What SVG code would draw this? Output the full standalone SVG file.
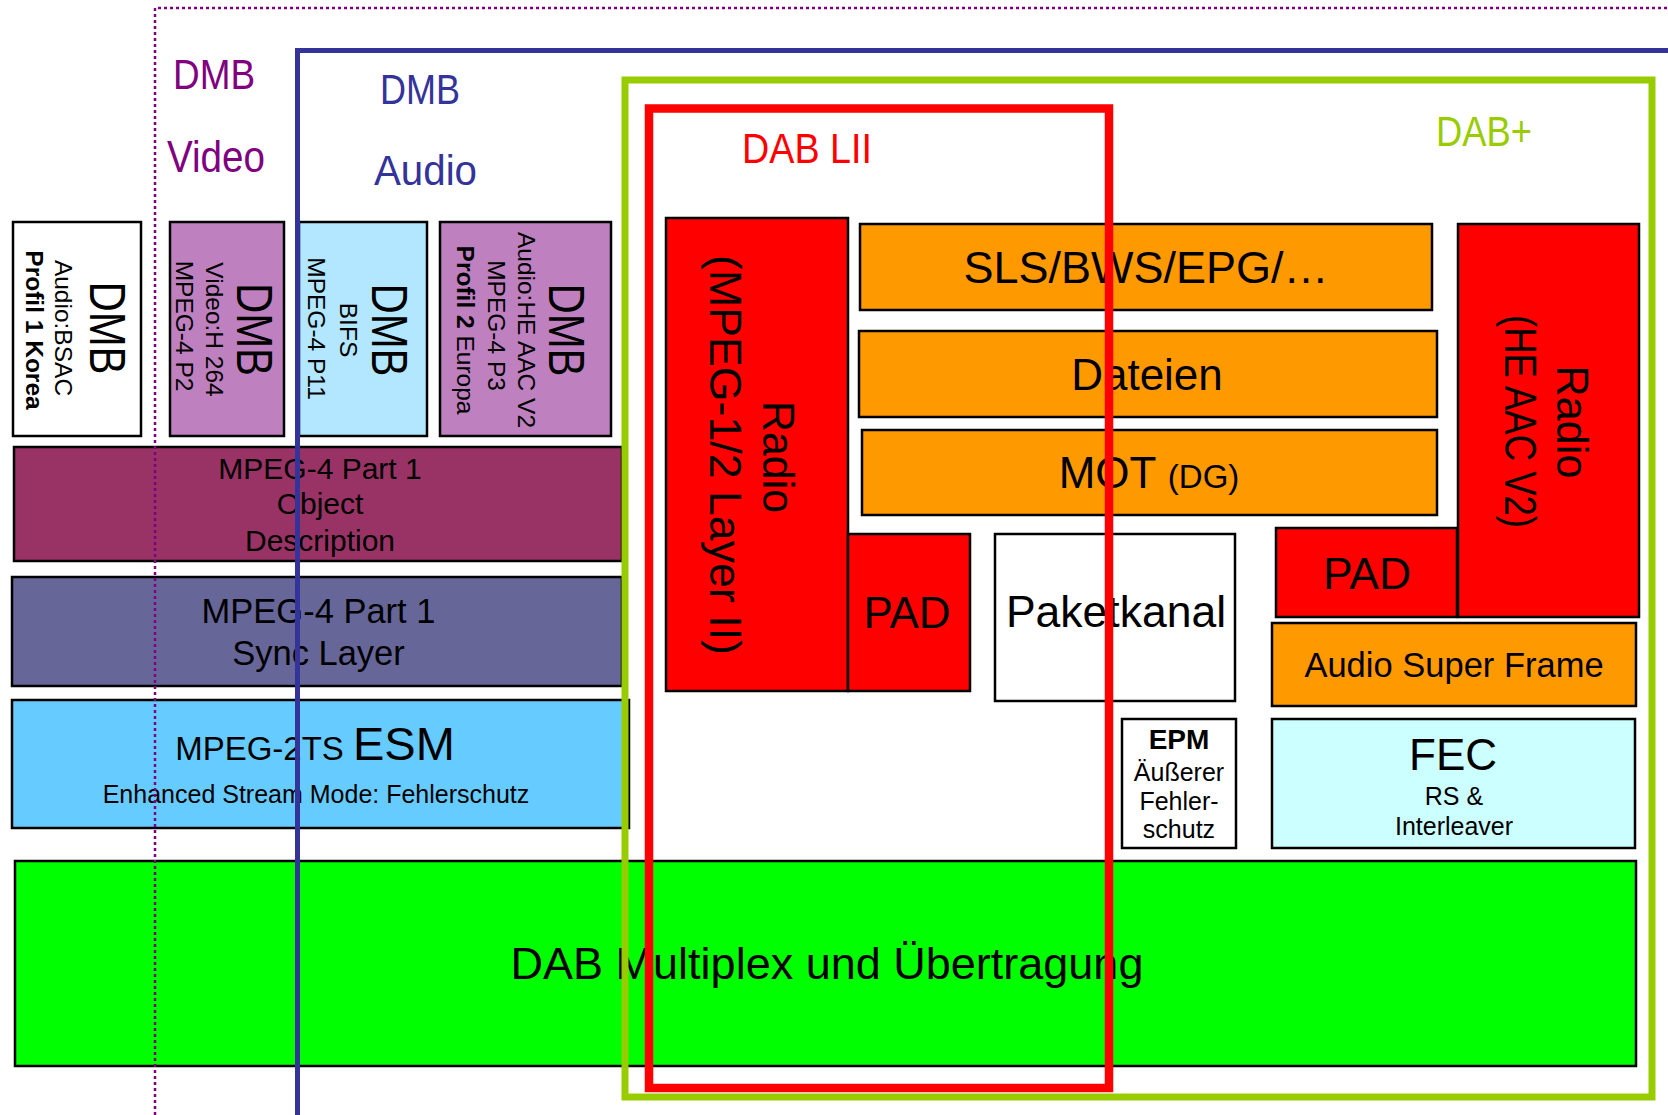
<svg xmlns="http://www.w3.org/2000/svg" width="1668" height="1115" viewBox="0 0 1668 1115">
<style>
text{font-family:"Liberation Sans",Arial,sans-serif;fill:#000}
.bx{stroke:#000;stroke-width:2.5}
.bd{font-weight:bold}
.s{font-size:24.5px}
.pu{fill:#800080}
.bl{fill:#333399}
.rd{fill:#ff0000}
.gr{fill:#99cc00}
.red{fill:#ff0000}
.org{fill:#ff9900}
.lil{fill:#bf80bf}
</style>
<rect width="1668" height="1115" fill="#fff"/>

<g id="box-dmb-bsac">
<rect class="bx" x="13" y="222" width="128" height="214" fill="#fff"/>
<text transform="translate(90,328) rotate(90)" text-anchor="middle" font-size="50" textLength="93" lengthAdjust="spacingAndGlyphs">DMB</text>
<text class="s" transform="translate(55,328) rotate(90)" text-anchor="middle">Audio:BSAC</text>
<text class="s bd" transform="translate(25.5,330) rotate(90)" text-anchor="middle">Profil 1 Korea</text>
</g>

<g id="box-dmb-video">
<rect class="bx lil" x="170" y="222" width="114" height="214"/>
<text transform="translate(237,329.5) rotate(90)" text-anchor="middle" font-size="50" textLength="93" lengthAdjust="spacingAndGlyphs">DMB</text>
<text class="s" transform="translate(205.5,329.5) rotate(90)" text-anchor="middle">Video:H 264</text>
<text class="s" transform="translate(176,326) rotate(90)" text-anchor="middle">MPEG-4 P2</text>
</g>

<g id="box-dmb-bifs">
<rect class="bx" x="299" y="222" width="128" height="214" fill="#b3e6ff"/>
<text transform="translate(371.5,330) rotate(90)" text-anchor="middle" font-size="50" textLength="93" lengthAdjust="spacingAndGlyphs">DMB</text>
<text class="s" transform="translate(340,330) rotate(90)" text-anchor="middle">BIFS</text>
<text class="s" transform="translate(308,328.5) rotate(90)" text-anchor="middle">MPEG-4 P11</text>
</g>

<g id="box-dmb-heaac">
<rect class="bx lil" x="440" y="222" width="171" height="214"/>
<text transform="translate(549,330) rotate(90)" text-anchor="middle" font-size="50" textLength="93" lengthAdjust="spacingAndGlyphs">DMB</text>
<text class="s" transform="translate(518,330) rotate(90)" text-anchor="middle">Audio:HE AAC V2</text>
<text class="s" transform="translate(488,325.5) rotate(90)" text-anchor="middle">MPEG-4 P3</text>
<text class="s" transform="translate(456.5,330) rotate(90)" text-anchor="middle"><tspan class="bd">Profil 2</tspan> Europa</text>
</g>

<g id="box-od">
<rect class="bx" x="14" y="447" width="608" height="114" fill="#993366"/>
<text font-size="30" x="320" y="479" text-anchor="middle">MPEG-4 Part 1</text>
<text font-size="30" x="320" y="514" text-anchor="middle">Object</text>
<text font-size="30" x="320" y="551" text-anchor="middle">Description</text>
</g>

<g id="box-sl">
<rect class="bx" x="12" y="577" width="610" height="109" fill="#666699"/>
<text font-size="34.5" x="318.5" y="623" text-anchor="middle">MPEG-4 Part 1</text>
<text font-size="34.5" x="318.5" y="665" text-anchor="middle">Sync Layer</text>
</g>

<g id="box-esm">
<rect class="bx" x="12" y="700" width="617" height="128" fill="#66ccff"/>
<text x="315" y="760" text-anchor="middle"><tspan font-size="33">MPEG-2TS </tspan><tspan font-size="47">ESM</tspan></text>
<text font-size="25" x="316" y="803" text-anchor="middle">Enhanced Stream Mode: Fehlerschutz</text>
</g>

<g id="box-mux">
<rect class="bx" x="15" y="861" width="1621" height="205" fill="#00ff00"/>
<text font-size="45" x="827" y="979" text-anchor="middle">DAB Multiplex und Übertragung</text>
</g>

<g id="box-radio-mpeg">
<rect class="bx red" x="666" y="218" width="182" height="473"/>
<text transform="translate(763,457) rotate(90)" text-anchor="middle" font-size="44" textLength="112" lengthAdjust="spacingAndGlyphs">Radio</text>
<text transform="translate(709.5,455) rotate(90)" text-anchor="middle" font-size="45" textLength="400" lengthAdjust="spacingAndGlyphs">(MPEG-1/2 Layer II)</text>
</g>

<g id="box-pad-left">
<rect class="bx red" x="848" y="534" width="122" height="157"/>
<text font-size="44" x="907" y="628" text-anchor="middle">PAD</text>
</g>

<g id="box-sls">
<rect class="bx org" x="860" y="224" width="572" height="86"/>
<text font-size="45" x="1146" y="283" text-anchor="middle">SLS/BWS/EPG/…</text>
</g>

<g id="box-dateien">
<rect class="bx org" x="859" y="331" width="578" height="86"/>
<text font-size="44" x="1147" y="390" text-anchor="middle">Dateien</text>
</g>

<g id="box-mot">
<rect class="bx org" x="862" y="430" width="575" height="85"/>
<text x="1149" y="488" text-anchor="middle"><tspan font-size="44">MOT </tspan><tspan font-size="33">(DG)</tspan></text>
</g>

<g id="box-paket">
<rect class="bx" x="995" y="534" width="240" height="167" fill="#fff"/>
<text font-size="44.5" x="1116" y="627" text-anchor="middle">Paketkanal</text>
</g>

<g id="box-epm">
<rect class="bx" x="1122" y="719" width="114" height="129" fill="#fff"/>
<text class="bd" font-size="28" x="1179" y="749" text-anchor="middle">EPM</text>
<text font-size="25" x="1179" y="781" text-anchor="middle">Äußerer</text>
<text font-size="25" x="1179" y="810" text-anchor="middle">Fehler-</text>
<text font-size="25" x="1179" y="838" text-anchor="middle">schutz</text>
</g>

<g id="box-radio-heaac">
<rect class="bx red" x="1458" y="224" width="181" height="393"/>
<text transform="translate(1557,422) rotate(90)" text-anchor="middle" font-size="44" textLength="113" lengthAdjust="spacingAndGlyphs">Radio</text>
<text transform="translate(1505,421.5) rotate(90)" text-anchor="middle" font-size="44" textLength="213" lengthAdjust="spacingAndGlyphs">(HE AAC V2)</text>
</g>

<g id="box-pad-right">
<rect class="bx red" x="1276" y="528" width="181" height="89"/>
<text font-size="44.5" x="1367" y="589" text-anchor="middle">PAD</text>
</g>

<g id="box-asf">
<rect class="bx org" x="1272" y="623" width="364" height="83"/>
<text font-size="34.5" x="1454" y="677" text-anchor="middle">Audio Super Frame</text>
</g>

<g id="box-fec">
<rect class="bx" x="1272" y="719" width="363" height="129" fill="#ccffff"/>
<text font-size="44" x="1453" y="770" text-anchor="middle">FEC</text>
<text font-size="25" x="1454" y="805" text-anchor="middle">RS &amp;</text>
<text font-size="25" x="1454" y="835" text-anchor="middle">Interleaver</text>
</g>

<g id="connectors">
<path d="M155 1115 V8 H1668" fill="none" stroke="#800080" stroke-width="2.5" stroke-dasharray="3 3"/>
<path d="M297.5 1115 V50.5 H1668" fill="none" stroke="#333399" stroke-width="5"/>
<rect x="625" y="80" width="1027" height="1017" fill="none" stroke="#99cc00" stroke-width="7"/>
<rect x="649" y="108.5" width="460" height="979.5" fill="none" stroke="#ff0000" stroke-width="8.5"/>
</g>

<g id="frame-labels">
<text class="pu" x="173" y="89" font-size="43" textLength="82" lengthAdjust="spacingAndGlyphs">DMB</text>
<text class="pu" x="167" y="172" font-size="44" textLength="98" lengthAdjust="spacingAndGlyphs">Video</text>
<text class="bl" x="380" y="104" font-size="43" textLength="80" lengthAdjust="spacingAndGlyphs">DMB</text>
<text class="bl" x="374" y="185" font-size="43" textLength="103" lengthAdjust="spacingAndGlyphs">Audio</text>
<text class="rd" x="742" y="163" font-size="43" textLength="130" lengthAdjust="spacingAndGlyphs">DAB LII</text>
<text class="gr" x="1436" y="146" font-size="43" textLength="96" lengthAdjust="spacingAndGlyphs">DAB+</text>
</g>
</svg>
